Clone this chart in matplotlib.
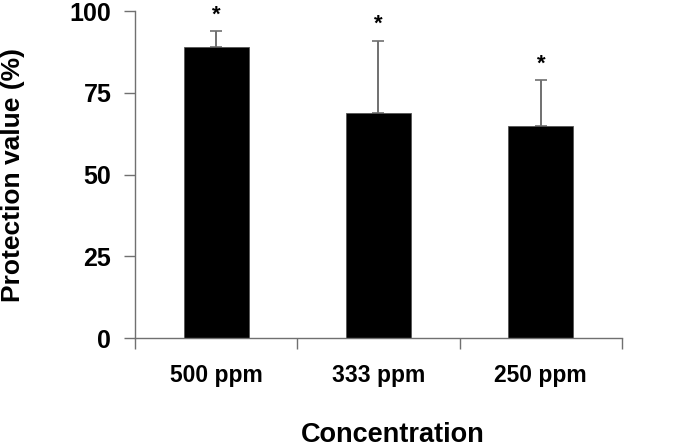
import matplotlib.pyplot as plt

categories = ['500 ppm', '333 ppm', '250 ppm']
values = [89, 69, 65]
errors = [5, 22, 14]
marks = ['*', '*', '*']
yticks = [0, 25, 50, 75, 100]

plt.rcParams['font.family'] = ['Liberation Sans', 'DejaVu Sans']
plt.rcParams['font.weight'] = 'bold'

fig = plt.figure(figsize=(6.85, 4.48), dpi=100)
ax = fig.add_axes([0.197, 0.2455, 0.711, 0.7295])

x = range(len(categories))
ax.bar(x, values, width=0.4, color='black', edgecolor='#555555', linewidth=0.6, zorder=2)
ax.errorbar(x, values, yerr=[[0] * len(errors), errors], fmt='none',
            ecolor='#707070', elinewidth=1.4, capsize=4, capthick=1.2, zorder=1)
for xi, v, e, m in zip(x, values, errors, marks):
    ax.annotate(m, (xi, v + e), xytext=(0, 4), textcoords='offset points',
                ha='center', va='bottom', fontsize=16, fontweight='bold')

ax.set_xlim(-0.5, len(categories) - 0.5)
ax.set_ylim(0, 100)
ax.set_yticks(yticks)
ax.set_xticks(list(x))
ax.set_xticklabels(categories, fontsize=16.5, fontweight='bold')
ax.set_xticks([i - 0.5 for i in range(len(categories) + 1)], minor=True)
ax.tick_params(axis='x', which='major', length=0, pad=19)
ax.tick_params(axis='x', which='minor', length=8, width=1, color='#707070')
ax.tick_params(axis='y', length=8, width=1, color='#707070', pad=9, labelsize=18)
for lab in ax.get_yticklabels():
    lab.set_fontweight('bold')

for s in ['top', 'right']:
    ax.spines[s].set_visible(False)
for s in ['left', 'bottom']:
    ax.spines[s].set_color('#707070')
    ax.spines[s].set_linewidth(1)

ax.set_xlabel('Concentration', fontsize=19.5, fontweight='bold')
ax.xaxis.set_label_coords(0.53, -0.258)
ax.set_ylabel('Protection value (%)', fontsize=19, fontweight='bold')
ax.yaxis.set_label_coords(-0.226, 0.5)

fig.savefig('out.png', dpi=100)
